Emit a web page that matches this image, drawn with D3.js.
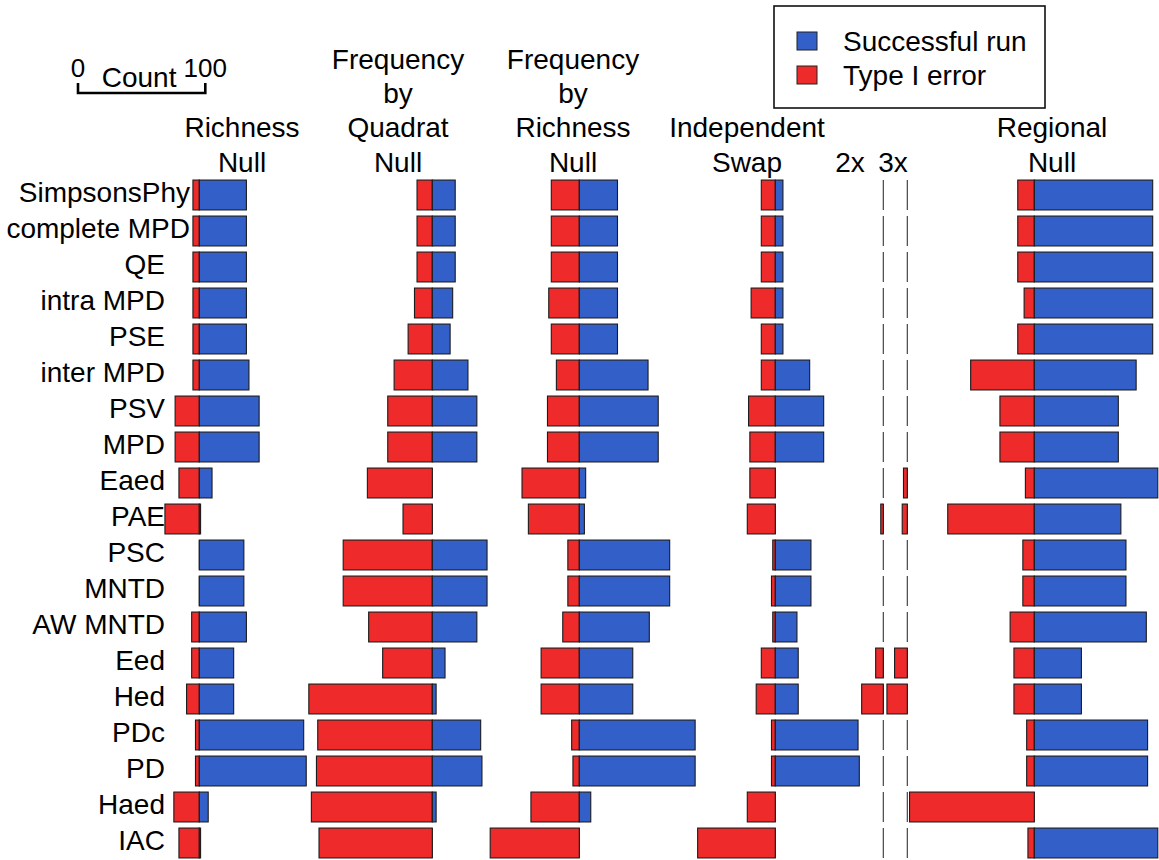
<!DOCTYPE html>
<html>
<head>
<meta charset="utf-8">
<script src="https://cdn.jsdelivr.net/npm/d3@7"></script>
<style>
  html, body { margin: 0; padding: 0; background: #fff; }
  svg { display: block; }
  text { font-family: "Liberation Sans", Arial, Helvetica, sans-serif; fill: #000; }
</style>
</head>
<body>
<svg id="chart" width="1159" height="860"></svg>
<script>
// Metrics (rows), top to bottom
const metrics = ["SimpsonsPhy", "complete MPD", "QE", "intra MPD", "PSE", "inter MPD", "PSV", "MPD",
  "Eaed", "PAE", "PSC", "MNTD", "AW MNTD", "Eed", "Hed", "PDc", "PD", "Haed", "IAC"];

// Counts per null model: Type I errors and successful runs
const richnessErr   = [5, 5, 5, 5, 5, 5, 19, 19, 16, 27, 0, 0, 6, 6, 10, 3, 3, 20, 16];
const richnessOk    = [37, 37, 37, 37, 37, 39, 47, 47, 10, 1, 35, 35, 37, 27, 27, 82, 84, 7, 1];
const quadratErr    = [12, 12, 12, 14, 19, 30, 35, 35, 51, 23, 70, 70, 50, 39, 97, 90, 91, 95, 89];
const quadratOk     = [18, 18, 18, 16, 14, 28, 35, 35, 0, 0, 43, 43, 35, 10, 3, 38, 39, 3, 0];
const freqRichErr   = [22, 22, 22, 24, 22, 18, 25, 25, 45, 40, 9, 9, 13, 30, 30, 6, 5, 38, 70];
const freqRichOk    = [30, 30, 30, 30, 30, 54, 62, 62, 5, 4, 71, 71, 55, 42, 42, 91, 91, 9, 0];
const swapErr       = [11, 11, 11, 19, 11, 11, 21, 20, 20, 22, 2, 3, 2, 11, 15, 3, 3, 22, 61];
const swapOk        = [6, 6, 6, 6, 6, 27, 38, 38, 0, 0, 28, 28, 17, 18, 18, 65, 66, 0, 0];
const swap2xErr     = [0, 0, 0, 0, 0, 0, 0, 0, 0, 2, 0, 0, 0, 6, 17, 0, 0, 0, 0];
const swap2xOk      = [0, 0, 0, 0, 0, 0, 0, 0, 0, 0, 0, 0, 0, 0, 0, 0, 0, 0, 0];
const swap3xErr     = [0, 0, 0, 0, 0, 0, 0, 0, 3, 4, 0, 0, 0, 10, 16, 0, 0, 0, 0];
const swap3xOk      = [0, 0, 0, 0, 0, 0, 0, 0, 0, 0, 0, 0, 0, 0, 0, 0, 0, 0, 0];
const regionalErr   = [13, 13, 13, 8, 13, 50, 27, 27, 7, 68, 9, 9, 19, 16, 16, 6, 6, 98, 5];
const regionalOk    = [93, 93, 93, 93, 93, 80, 66, 66, 97, 68, 72, 72, 88, 37, 37, 89, 89, 0, 97];

// Legend entries and scale-bar ticks
const legendLabels = ["Successful run", "Type I error"];
const scaleTicks = [0, 100];

const COLORS = { ok: "#335fc9", err: "#ef2a2a", edge: "#1c1c1c" };

const svg = d3.select("#chart");

// Shared count scale (all panels use the same length per count)
const x = d3.scaleLinear().domain([0, 100]).range([0, 127.3]);

// Row positions
const y = d3.scaleBand().domain(metrics).range([177, 861]).paddingInner(0.17).paddingOuter(0.085);

// Panels: zero line position, title lines and title anchor
const panels = [
  { center: 199.3, err: richnessErr, ok: richnessOk, title: ["Richness", "Null"], tx: 242 },
  { center: 432.3, err: quadratErr, ok: quadratOk, title: ["Frequency", "by", "Quadrat", "Null"], tx: 398 },
  { center: 579.3, err: freqRichErr, ok: freqRichOk, title: ["Frequency", "by", "Richness", "Null"], tx: 573 },
  { center: 775.3, err: swapErr, ok: swapOk, title: ["Independent", "Swap"], tx: 747 },
  { center: 883.3, err: swap2xErr, ok: swap2xOk, title: ["2x"], tx: 850 },
  { center: 907.3, err: swap3xErr, ok: swap3xOk, title: ["3x"], tx: 893 },
  { center: 1034.3, err: regionalErr, ok: regionalOk, title: ["Regional", "Null"], tx: 1052 }
];

const FONT = 28;
const LAST_BASELINE = 171.5;
const LINE_GAP = 34.3;

panels.forEach(p => {
  const g = svg.append("g");
  const rows = metrics.map((m, i) => ({ m, err: p.err[i], ok: p.ok[i] }));

  // zero line for every row
  g.selectAll("line.zero")
    .data(rows)
    .join("line")
    .attr("class", "zero")
    .attr("x1", p.center).attr("x2", p.center)
    .attr("y1", d => y(d.m)).attr("y2", d => y(d.m) + y.bandwidth())
    .attr("stroke", "#333")
    .attr("stroke-width", 1.1);

  // Type I error bars extend to the left
  g.selectAll("rect.err")
    .data(rows.filter(d => d.err > 0))
    .join("rect")
    .attr("class", "err")
    .attr("x", d => p.center - x(d.err))
    .attr("y", d => y(d.m))
    .attr("width", d => x(d.err))
    .attr("height", y.bandwidth())
    .attr("fill", COLORS.err)
    .attr("stroke", COLORS.edge)
    .attr("stroke-width", 1.1);

  // Successful runs extend to the right
  g.selectAll("rect.ok")
    .data(rows.filter(d => d.ok > 0))
    .join("rect")
    .attr("class", "ok")
    .attr("x", p.center)
    .attr("y", d => y(d.m))
    .attr("width", d => x(d.ok))
    .attr("height", y.bandwidth())
    .attr("fill", COLORS.ok)
    .attr("stroke", COLORS.edge)
    .attr("stroke-width", 1.1);

  // panel title, stacked upward from the last line
  const n = p.title.length;
  g.selectAll("text.title")
    .data(p.title)
    .join("text")
    .attr("class", "title")
    .attr("x", p.tx)
    .attr("y", (d, i) => LAST_BASELINE - (n - 1 - i) * LINE_GAP)
    .attr("text-anchor", "middle")
    .attr("font-size", FONT)
    .text(d => d);
});

// Row labels: right-aligned, the two longest names pushed closer to the bars
const labelRight = m => (m === "SimpsonsPhy" || m === "complete MPD") ? 190 : 165;
svg.append("g")
  .selectAll("text")
  .data(metrics)
  .join("text")
  .attr("x", d => labelRight(d))
  .attr("y", d => y(d) + y.bandwidth() / 2 - 2.5)
  .attr("dy", "0.35em")
  .attr("text-anchor", "end")
  .attr("font-size", FONT)
  .text(d => d);

// Scale bar: 0 to 100 counts
const sb = svg.append("g").attr("transform", "translate(78,93)");
sb.append("path")
  .attr("d", `M${x(scaleTicks[0])},-10 V0 H${x(scaleTicks[1])} V-10`)
  .attr("fill", "none")
  .attr("stroke", "#000")
  .attr("stroke-width", 2.6);
sb.selectAll("text.tick")
  .data(scaleTicks)
  .join("text")
  .attr("class", "tick")
  .attr("x", d => x(d))
  .attr("y", -16.5)
  .attr("text-anchor", "middle")
  .attr("font-size", 26)
  .text(d => d);
sb.append("text")
  .attr("x", x(48))
  .attr("y", -6)
  .attr("text-anchor", "middle")
  .attr("font-size", FONT)
  .text("Count");

// Legend
const lg = svg.append("g").attr("transform", "translate(774,6)");
lg.append("rect")
  .attr("width", 271).attr("height", 102)
  .attr("fill", "#fff").attr("stroke", "#111").attr("stroke-width", 1.6);
const legendColors = [COLORS.ok, COLORS.err];
const items = lg.selectAll("g.item")
  .data(legendLabels)
  .join("g")
  .attr("class", "item")
  .attr("transform", (d, i) => `translate(23,${26 + i * 34})`);
items.append("rect")
  .attr("width", 20).attr("height", 18)
  .attr("fill", (d, i) => legendColors[i])
  .attr("stroke", "#222").attr("stroke-width", 1);
items.append("text")
  .attr("x", 46).attr("y", 9)
  .attr("dy", "0.35em")
  .attr("font-size", FONT)
  .text(d => d);
</script>
</body>
</html>
